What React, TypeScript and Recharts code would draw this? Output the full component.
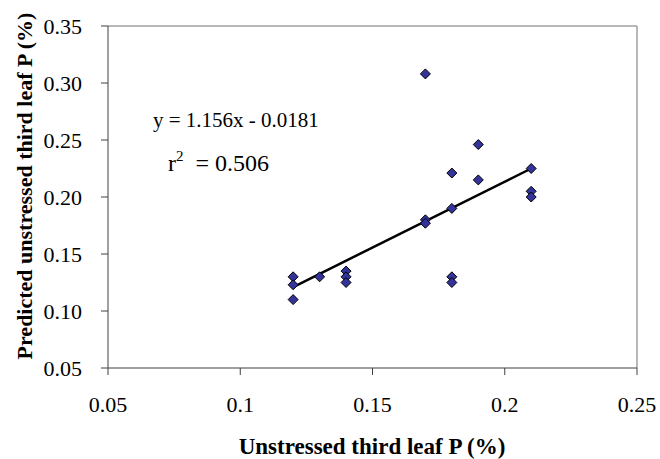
import React from "react";
import {
  ScatterChart,
  Scatter,
  XAxis,
  YAxis,
  ReferenceLine,
  Customized,
} from "recharts";

const FONT = "'Times New Roman', 'Liberation Serif', Times, serif";

// measured points
const xValues = [0.12, 0.12, 0.12, 0.13, 0.14, 0.14, 0.14, 0.17, 0.17, 0.17, 0.18, 0.18, 0.18, 0.18, 0.19, 0.19, 0.21, 0.21, 0.21];
const yValues = [0.13, 0.123, 0.11, 0.13, 0.135, 0.13, 0.125, 0.308, 0.18, 0.177, 0.221, 0.19, 0.13, 0.125, 0.246, 0.215, 0.225, 0.205, 0.2];

// trendline end points
const trendX = [0.12, 0.21];
const trendY = [0.121, 0.225];

// ticks
const xTicks = [0.05, 0.1, 0.15, 0.2, 0.25];
const xTickLabels = ["0.05", "0.1", "0.15", "0.2", "0.25"];
const yTicks = [0.05, 0.1, 0.15, 0.2, 0.25, 0.3, 0.35];
const yTickLabels = ["0.05", "0.10", "0.15", "0.20", "0.25", "0.30", "0.35"];

const xTitle = "Unstressed third leaf P (%)";
const yTitle = "Predicted unstressed third leaf P (%)";
const equation = "y = 1.156x - 0.0181";
const r2Value = "0.506";

const points = xValues.map((x, i) => ({ x, y: yValues[i] }));

const PLOT_LEFT = 108;
const PLOT_BOTTOM = 368;
const TICK = 7;

const Diamond = (props: any) => {
  const { cx, cy } = props;
  const r = 5;
  return (
    <polygon
      points={`${cx},${cy - r} ${cx + r},${cy} ${cx},${cy + r} ${cx - r},${cy}`}
      fill="#333399"
      stroke="#000"
      strokeWidth={1}
    />
  );
};

const labelFor = (ticks: number[], labels: string[], v: number) => {
  const i = ticks.findIndex((t) => Math.abs(t - v) < 1e-9);
  return i >= 0 ? labels[i] : String(v);
};

const YTick = (p: any) => (
  <text
    x={PLOT_LEFT - TICK - 19}
    y={p.y}
    textAnchor="end"
    dominantBaseline="central"
    fontSize={22}
    fontFamily={FONT}
    fill="#000"
  >
    {labelFor(yTicks, yTickLabels, p.payload.value)}
  </text>
);

const XTick = (p: any) => (
  <text
    x={p.x}
    y={PLOT_BOTTOM + 44}
    textAnchor="middle"
    fontSize={22}
    fontFamily={FONT}
    fill="#000"
  >
    {labelFor(xTicks, xTickLabels, p.payload.value)}
  </text>
);

const Annotations = () => (
  <g fontFamily={FONT} fill="#000">
    <text x={372} y={454} textAnchor="middle" fontSize={23} fontWeight="bold">
      {xTitle}
    </text>
    <text
      x={0}
      y={0}
      transform="translate(32,186) rotate(-90)"
      textAnchor="middle"
      fontSize={22}
      fontWeight="bold"
    >
      {yTitle}
    </text>
    <text x={153} y={127} fontSize={21} style={{ whiteSpace: "pre" }}>
      {equation}
    </text>
    <text x={168} y={170.5} fontSize={24} style={{ whiteSpace: "pre" }}>
      r
      <tspan fontSize={15} dy={-10}>2</tspan>
      <tspan dy={10}>{"  = " + r2Value}</tspan>
    </text>
  </g>
);

export default function App() {
  return (
    <div style={{ position: "absolute", left: 0, top: 0, background: "#fff" }}>
      <ScatterChart
        width={660}
        height={459}
        margin={{ top: 26, right: 23, bottom: 0, left: 0 }}
      >
        <XAxis
          type="number"
          dataKey="x"
          domain={[0.05, 0.25]}
          ticks={xTicks}
          interval={0}
          height={91}
          tickSize={TICK}
          stroke="#404040"
          tick={<XTick />}
          allowDataOverflow
        />
        <YAxis
          type="number"
          dataKey="y"
          domain={[0.05, 0.35]}
          ticks={yTicks}
          interval={0}
          width={108}
          tickSize={TICK}
          stroke="#404040"
          tick={<YTick />}
          allowDataOverflow
        />
        <ReferenceLine y={0.35} stroke="#a0a0a0" strokeWidth={1.5} />
        <ReferenceLine x={0.25} stroke="#a0a0a0" strokeWidth={1.5} />
        <ReferenceLine
          segment={[
            { x: trendX[0], y: trendY[0] },
            { x: trendX[1], y: trendY[1] },
          ]}
          stroke="#000"
          strokeWidth={2.5}
        />
        <Scatter data={points} shape={Diamond} isAnimationActive={false} />
        <Customized component={Annotations} />
      </ScatterChart>
    </div>
  );
}
